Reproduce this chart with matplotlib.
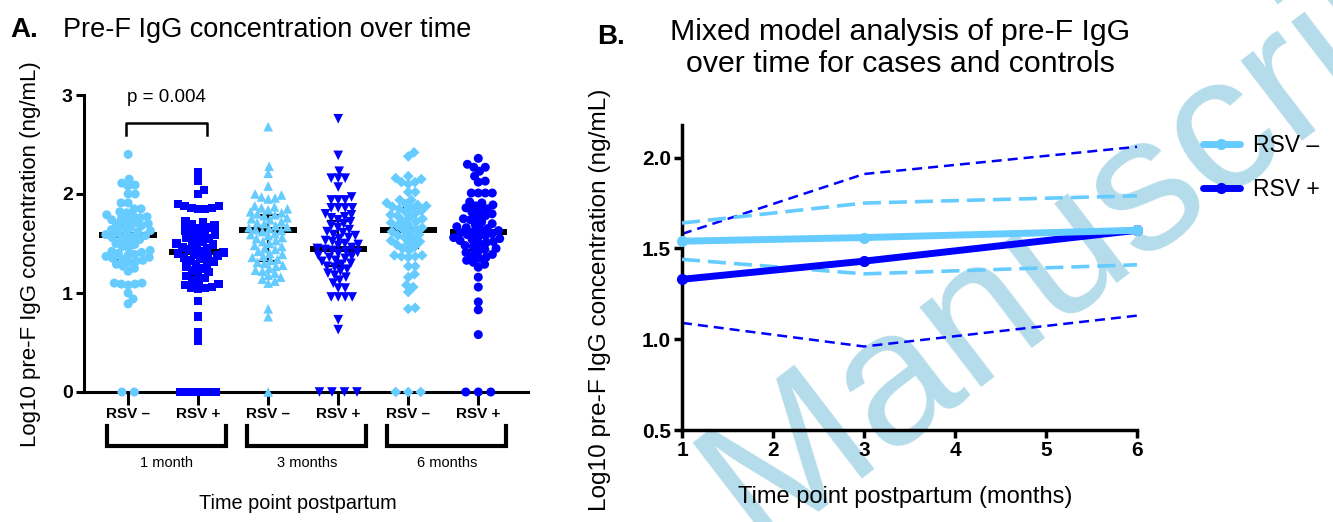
import numpy as np
import matplotlib
matplotlib.use('Agg')
import matplotlib.pyplot as plt

LIGHT = '#66ccff'
DARK = '#0000ff'

# ---- panel A data: log10 pre-F IgG per group ----
neg_1m = [2.40, 2.15, 2.11, 2.08, 2.09, 2.00, 2.00, 1.91, 1.91, 1.85, 1.85,
          1.82, 1.81, 1.79, 1.78, 1.77, 1.76, 1.75, 1.74, 1.73, 1.71, 1.70,
          1.69, 1.68, 1.67, 1.66, 1.64, 1.63, 1.62, 1.61, 1.60, 1.59, 1.58,
          1.57, 1.56, 1.55, 1.54, 1.52, 1.50, 1.49, 1.47, 1.45, 1.43, 1.42,
          1.41, 1.40, 1.39, 1.38, 1.37, 1.36, 1.35, 1.34, 1.33, 1.32, 1.31,
          1.29, 1.27, 1.25, 1.22, 1.10, 1.09, 1.09, 1.08, 1.10, 1.00, 0.94,
          0.89, 0.0, 0.0]
pos_1m = [2.22, 2.13, 2.04, 2.00, 1.90, 1.88, 1.86, 1.85, 1.85, 1.86, 1.88,
          1.72, 1.71, 1.69, 1.68, 1.66, 1.65, 1.63, 1.62, 1.60, 1.59, 1.57,
          1.56, 1.55, 1.53, 1.52, 1.50, 1.49, 1.48, 1.46, 1.45, 1.44, 1.42,
          1.41, 1.40, 1.39, 1.38, 1.37, 1.36, 1.35, 1.33, 1.32, 1.30, 1.29,
          1.27, 1.25, 1.23, 1.21, 1.19, 1.17, 1.15, 1.13, 1.11, 1.09, 1.08,
          1.05, 1.05, 1.04, 1.06, 0.92, 0.76, 0.60, 0.52,
          0.0, 0.0, 0.0, 0.0, 0.0, 0.0]
neg_3m = [2.68, 2.28, 2.21, 2.08, 2.00, 1.97, 1.96, 1.95, 1.99,
          1.88, 1.87, 1.86, 1.85, 1.84, 1.82, 1.81, 1.80, 1.79, 1.78, 1.76,
          1.75, 1.74, 1.72, 1.71, 1.70, 1.68, 1.67, 1.66, 1.65, 1.64, 1.63,
          1.62, 1.60, 1.59, 1.58, 1.56, 1.55, 1.53, 1.52, 1.50, 1.48, 1.47,
          1.45, 1.44, 1.42, 1.40, 1.39, 1.37, 1.36, 1.34, 1.33, 1.31, 1.30,
          1.28, 1.27, 1.25, 1.23, 1.22, 1.20, 1.18, 1.16, 1.14, 1.12, 1.10,
          0.84, 0.76, 0.0]
pos_3m = [2.76, 2.39, 2.23, 2.16, 2.16, 2.16, 2.07, 1.97, 1.94, 1.94, 1.94,
          1.86, 1.86, 1.86, 1.86,
          1.80, 1.79, 1.77, 1.76, 1.74, 1.72, 1.70, 1.68, 1.66, 1.64, 1.62,
          1.61, 1.59, 1.58, 1.56, 1.55, 1.53, 1.52, 1.50, 1.49, 1.48, 1.46,
          1.45, 1.44, 1.43, 1.42, 1.41, 1.40, 1.38, 1.37, 1.36, 1.35, 1.33,
          1.32, 1.30, 1.29, 1.27, 1.26, 1.24, 1.22, 1.20, 1.18, 1.16, 1.13,
          1.10, 1.05, 1.05, 0.96, 0.96, 0.96, 0.96, 0.73, 0.63,
          0.0, 0.0, 0.0, 0.0]
neg_6m = [2.42, 2.38, 2.18, 2.15, 2.12, 2.10, 2.12, 2.16, 2.02, 2.02, 1.94,
          1.94,
          1.91, 1.90, 1.89, 1.88, 1.87, 1.86, 1.85, 1.83, 1.82, 1.80, 1.79,
          1.78, 1.76, 1.75, 1.73, 1.72, 1.71, 1.69, 1.68, 1.66, 1.65, 1.64,
          1.62, 1.61, 1.59, 1.58, 1.56, 1.55, 1.53, 1.52, 1.50, 1.49, 1.47,
          1.45, 1.43, 1.38, 1.37, 1.37, 1.36, 1.38, 1.27, 1.27, 1.19, 1.16,
          1.08, 1.06, 1.01, 0.85, 0.84, 0.0, 0.0, 0.0]
pos_6m = [2.36, 2.30, 2.27, 2.27, 2.23, 2.18, 2.13, 2.12, 2.01, 2.01, 2.01,
          2.01,
          1.92, 1.91, 1.89, 1.88, 1.86, 1.85, 1.83, 1.82, 1.80, 1.78, 1.77,
          1.75, 1.74, 1.72, 1.70, 1.69, 1.67, 1.66, 1.65, 1.64, 1.63, 1.62,
          1.61, 1.60, 1.59, 1.58, 1.57, 1.56, 1.55, 1.54, 1.53, 1.52, 1.51,
          1.50, 1.48, 1.47, 1.45, 1.44, 1.42, 1.41, 1.39, 1.38, 1.36, 1.35,
          1.33, 1.31, 1.29, 1.26, 1.16, 1.06, 0.91, 0.83, 0.58, 0.0, 0.0, 0.0]

group_labels = ['RSV \u2013', 'RSV +'] * 3
time_labels = ['1 month', '3 months', '6 months']
medians = [1.59, 1.41, 1.64, 1.44, 1.64, 1.62]
q_low = [1.33, 1.17, 1.32, 1.27, 1.45, 1.43]
q_high = [1.74, 1.57, 1.79, 1.73, 1.86, 1.87]
p_text = 'p = 0.004'

# ---- panel B data: mixed model estimates with 95% CI ----
months = [1, 3, 6]
neg_mean = [1.54, 1.56, 1.60]
neg_lo = [1.44, 1.36, 1.41]
neg_hi = [1.64, 1.75, 1.79]
pos_mean = [1.33, 1.43, 1.60]
pos_lo = [1.09, 0.96, 1.13]
pos_hi = [1.58, 1.91, 2.06]

plt.rcParams['font.family'] = ['Liberation Sans', 'DejaVu Sans']


def swarm(vals, d, sx, sy):
    """Beeswarm offsets (data units) for points of diameter d pixels."""
    ys = np.asarray(vals, dtype=float) * sy
    xs = np.zeros(len(ys))
    placed = []
    for i in np.argsort(ys):
        y = ys[i]
        near = [(xp, yp) for xp, yp in placed if abs(yp - y) < d]
        cands = [0.0]
        for xp, yp in near:
            dx = np.sqrt(d * d - (yp - y) ** 2)
            cands += [xp + dx, xp - dx]
        cands.sort(key=abs)
        for c in cands:
            if all((c - xp) ** 2 + (y - yp) ** 2 >= d * d - 1e-6 for xp, yp in near):
                xs[i] = c
                break
        placed.append((xs[i], y))
    return xs / sx


W, H = 1333, 522
fig = plt.figure(figsize=(W / 100, H / 100), dpi=100)
axA = fig.add_axes([84 / W, 1 - 392 / H, (528 - 84) / W, (392 - 95) / H])
axB = fig.add_axes([682 / W, 1 - 430 / H, (1137 - 682) / W, (430 - 125) / H])
axB.set_facecolor('none')

# ================= panel A =================
xpos = [1, 2, 3, 4, 5, 6]
axA.set_xlim(0.37, 6.71)
axA.set_ylim(0, 3)
sx = (528 - 84) / (6.71 - 0.37)
sy = (392 - 95) / 3.0

groups = [neg_1m, pos_1m, neg_3m, pos_3m, neg_6m, pos_6m]
markers = ['o', 's', '^', 'v', 'D', 'o']
msizes = [42, 38, 48, 48, 30, 42]
colors = [LIGHT, DARK] * 3

for k, vals in enumerate(groups):
    vals = np.asarray(vals)
    nz = vals[vals > 0]
    xs = xpos[k] + swarm(nz, 7.0, sx, sy)
    axA.scatter(xs, nz, s=msizes[k], marker=markers[k], color=colors[k],
                edgecolors='none', zorder=3, clip_on=False)
    nzero = int(np.sum(vals == 0))
    step = 7 if nzero > 4 else 12.5
    zx = xpos[k] + (np.arange(nzero) - (nzero - 1) / 2) * step / sx
    axA.scatter(zx, np.zeros(nzero), s=msizes[k], marker=markers[k],
                color=colors[k], edgecolors='none', zorder=4, clip_on=False)
    # median and IQR
    axA.plot([xpos[k] - 0.41, xpos[k] + 0.41], [medians[k]] * 2, color='black',
             lw=4.3, solid_capstyle='butt', zorder=2)
    axA.plot([xpos[k]] * 2, [q_low[k], q_high[k]], color='black', lw=1.6,
             zorder=2)
    for q in (q_low[k], q_high[k]):
        axA.plot([xpos[k] - 0.14, xpos[k] + 0.14], [q, q], color='black',
                 lw=1.6, zorder=2)

for s in ['top', 'right']:
    axA.spines[s].set_visible(False)
for s in ['left', 'bottom']:
    axA.spines[s].set_linewidth(2.2)
axA.set_yticks([0, 1, 2, 3])
axA.set_yticklabels(['0', '1', '2', '3'], fontsize=14, fontweight='bold')
axA.set_xticks(xpos)
axA.set_xticklabels(group_labels, fontsize=11, fontweight='bold')
axA.tick_params(axis='y', length=6, width=2.2, pad=2)
axA.tick_params(axis='x', length=9, width=2.2, pad=2)

# time point brackets under the tick labels
xt = axA.get_xaxis_transform()
for j, lab in enumerate(time_labels):
    a, b = xpos[2 * j] - 0.3, xpos[2 * j + 1] + 0.4
    axA.plot([a, a, b, b], [-0.115, -0.182, -0.182, -0.115], color='black',
             lw=3, transform=xt, clip_on=False, solid_joinstyle='miter')
    axA.text((a + b) / 2, -0.239, lab, transform=xt, ha='center', va='center',
             fontsize=10.5)

# significance bracket
axA.plot([0.97, 0.97, 2.13, 2.13], [2.6, 2.72, 2.72, 2.6], color='black', lw=1.8,
         clip_on=False)
axA.text(1.55, 2.97, p_text, ha='center', va='center', fontsize=13.5)

axA.set_ylabel('Log10 pre-F IgG concentration (ng/mL)', fontsize=16)
axA.yaxis.set_label_coords(-0.097, 0.463)
axA.set_xlabel('Time point postpartum', fontsize=14.3)
axA.xaxis.label.set_va('center')
axA.xaxis.set_label_coords(0.482, -0.374)

# ================= panel B =================
axB.set_xlim(1, 6)
axB.set_ylim(0.5, 2.18)
axB.plot(months, pos_hi, color=DARK, lw=1.8, ls=(0, (4, 2.4)), clip_on=False, zorder=2)
axB.plot(months, pos_lo, color=DARK, lw=1.8, ls=(0, (4, 2.4)), clip_on=False, zorder=2)
axB.plot(months, neg_hi, color=LIGHT, lw=2.6, ls=(0, (5, 2.2)), clip_on=False, zorder=3)
axB.plot(months, neg_lo, color=LIGHT, lw=2.6, ls=(0, (5, 2.2)), clip_on=False, zorder=3)
h_pos, = axB.plot(months, pos_mean, color=DARK, lw=5, marker='o', ms=7,
                  solid_capstyle='round', clip_on=False, zorder=4)
h_neg, = axB.plot(months, neg_mean, color=LIGHT, lw=5, marker='o', ms=7,
                  solid_capstyle='round', clip_on=False, zorder=5)

for s in ['top', 'right']:
    axB.spines[s].set_visible(False)
for s in ['left', 'bottom']:
    axB.spines[s].set_linewidth(2.5)
axB.set_xticks([1, 2, 3, 4, 5, 6])
axB.set_xticklabels([str(m) for m in range(1, 7)], fontsize=15, fontweight='bold')
axB.set_yticks([0.5, 1.0, 1.5, 2.0])
axB.set_yticklabels(['0.5', '1.0', '1.5', '2.0'], fontsize=15, fontweight='bold')
axB.tick_params(length=6, width=2.5, pad=2)

axB.set_ylabel('Log10 pre-F IgG concentration (ng/mL)', fontsize=17.6)
axB.yaxis.set_label_coords(-0.155, 0.426)
axB.set_xlabel('Time point postpartum (months)', fontsize=17)
axB.xaxis.label.set_va('center')
axB.xaxis.set_label_coords(0.49, -0.22)

axB.legend([h_neg, h_pos], ['RSV \u2013', 'RSV +'], loc='center left',
           bbox_to_anchor=(1.145, 0.861), frameon=False, fontsize=16.5,
           handlelength=1.6, labelspacing=0.9, handletextpad=0.6,
           borderpad=0, borderaxespad=0)

# ================= titles =================
fig.text(10 / W, 1 - 30 / H, 'A.', fontsize=20, fontweight='bold', va='center')
fig.text(63 / W, 1 - 30 / H, 'Pre-F IgG concentration over time',
         fontsize=19.5, va='center')
fig.text(597 / W, 1 - 37 / H, 'B.', fontsize=20, fontweight='bold', va='center')
fig.text(900 / W, 1 - 48 / H,
         'Mixed model analysis of pre-F IgG\nover time for cases and controls',
         fontsize=21.8, ha='center', va='center', linespacing=1.16)

# watermark (behind the panels)
fig.text(757 / W, 1 - 547 / H, 'Manuscript', fontsize=138, color='#b5dcea',
         rotation=37.5, rotation_mode='anchor', ha='left', va='baseline',
         zorder=-1)

fig.savefig('out.png', dpi=100)
